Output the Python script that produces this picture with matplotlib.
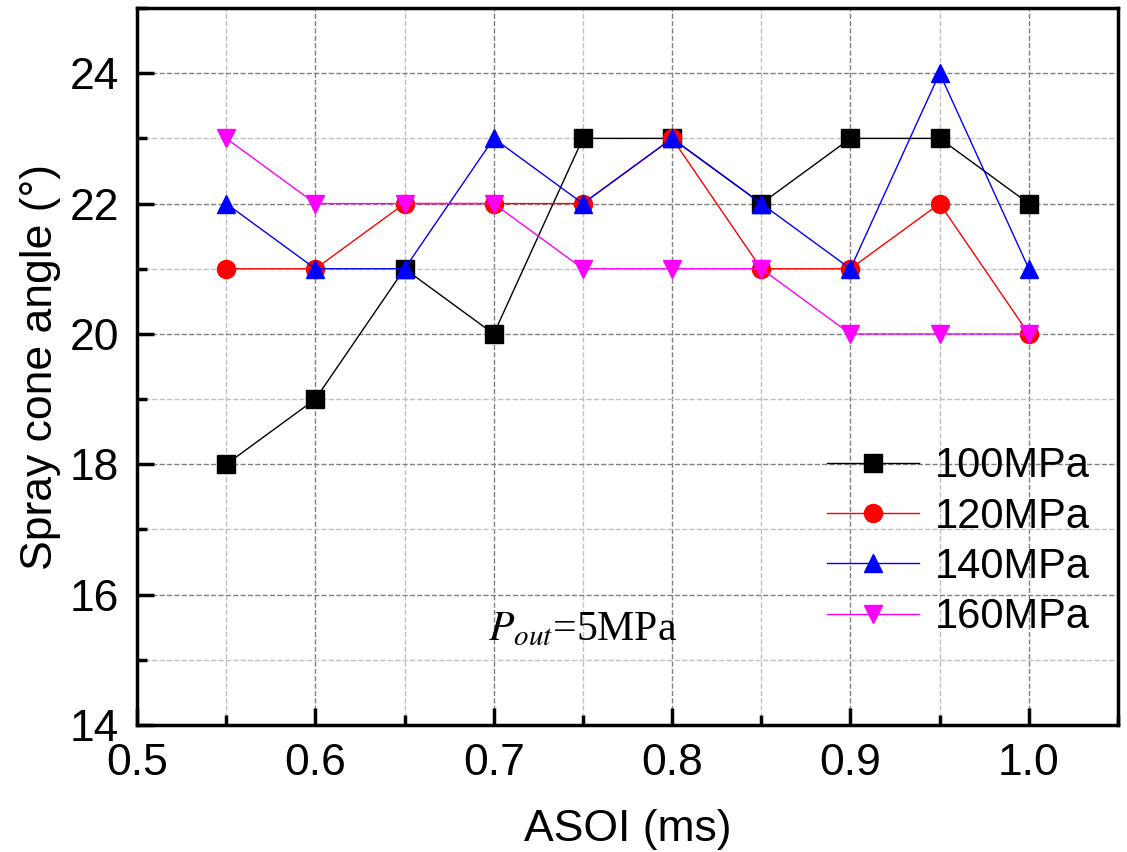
import matplotlib.pyplot as plt
import numpy as np
from matplotlib.ticker import MultipleLocator

plt.rcParams['font.family'] = ['Liberation Sans', 'DejaVu Sans']

asoi = [0.55, 0.6, 0.65, 0.7, 0.75, 0.8, 0.85, 0.9, 0.95, 1.0]
p100 = [18, 19, 21, 20, 23, 23, 22, 23, 23, 22]
p120 = [21, 21, 22, 22, 22, 23, 21, 21, 22, 20]
p140 = [22, 21, 21, 23, 22, 23, 22, 21, 24, 21]
p160 = [23, 22, 22, 22, 21, 21, 21, 20, 20, 20]

series = [
    ('100MPa', p100, 'black', 's'),
    ('120MPa', p120, 'red', 'o'),
    ('140MPa', p140, 'blue', '^'),
    ('160MPa', p160, 'magenta', 'v'),
]

fig = plt.figure(figsize=(11.27, 8.52), dpi=100)
ax = fig.add_axes([0.1216, 0.149, 0.8704, 0.8416])

for name, vals, col, mk in series:
    ax.plot(asoi, vals, color=col, marker=mk, markersize=13, lw=1, label=name)

ax.set_xlim(0.5, 1.05)
ax.set_ylim(14, 25)
ax.xaxis.set_major_locator(MultipleLocator(0.1))
ax.xaxis.set_minor_locator(MultipleLocator(0.05))
ax.yaxis.set_major_locator(MultipleLocator(2))
ax.yaxis.set_minor_locator(MultipleLocator(1))
ax.set_xticks(np.arange(0.5, 1.01, 0.1))

ax.grid(which='major', ls='--', color='#808080', lw=1)
ax.grid(which='minor', ls='--', color='#c0c0c0', lw=1)
ax.set_axisbelow(True)

ax.tick_params(which='both', direction='in', labelsize=32, width=2.5)
ax.tick_params(which='major', length=12)
ax.tick_params(which='minor', length=7)
ax.tick_params(axis='x', pad=13)
ax.tick_params(axis='y', pad=13)
for s in ax.spines.values():
    s.set_linewidth(2.5)

ax.set_xlabel('ASOI (ms)', fontsize=32, labelpad=18)
ax.set_ylabel('Spray cone angle (°)', fontsize=32, labelpad=6)

ax.text(0.697, 15.3, r'$P_{out}$=5MPa', fontsize=30, family='Liberation Serif',
        math_fontfamily='stix')

ax.legend(loc='lower right', bbox_to_anchor=(1.01, 0.07), frameon=False,
          fontsize=30, handlelength=2.2, labelspacing=0.25, handletextpad=0.4)

fig.savefig('out.png', dpi=100)
